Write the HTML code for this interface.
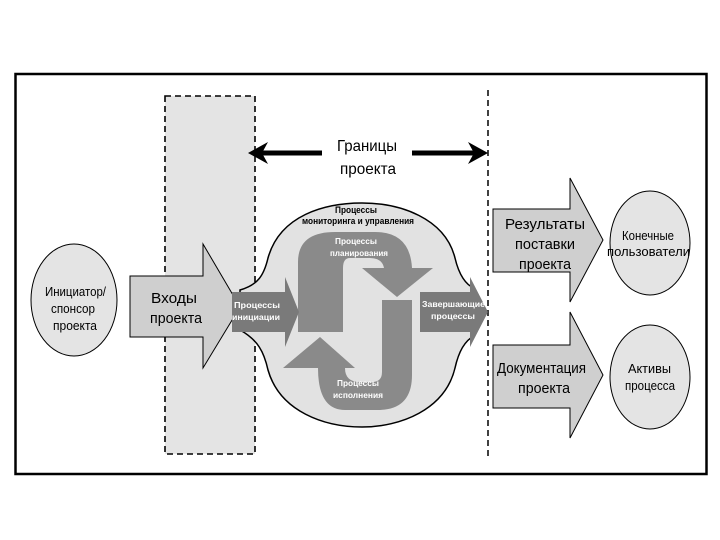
<!DOCTYPE html>
<html><head><meta charset="utf-8"><style>
html,body{margin:0;padding:0;background:#fff;width:720px;height:540px;overflow:hidden}
svg text{font-family:"Liberation Sans",sans-serif}
</style></head><body>
<svg width="720" height="540" viewBox="0 0 720 540">
<rect x="15.5" y="74" width="691" height="400" fill="#fff" stroke="#000" stroke-width="2.5"/>
<rect x="165" y="96" width="90" height="358" fill="#e4e4e4" stroke="#000" stroke-width="1.6" stroke-dasharray="6,4"/>
<line x1="488" y1="90" x2="488" y2="456" stroke="#000" stroke-width="1.5" stroke-dasharray="6,4"/>
<!-- boundary arrows -->
<line x1="262" y1="153" x2="322" y2="153" stroke="#000" stroke-width="5"/>
<polygon points="248,153 268,142 262,153 268,164" fill="#000"/>
<line x1="412" y1="153" x2="474" y2="153" stroke="#000" stroke-width="5"/>
<polygon points="488,153 468,142 474,153 468,164" fill="#000"/>
<text x="337" y="151" font-size="16" textLength="60" lengthAdjust="spacingAndGlyphs">Границы</text>
<text x="340" y="174" font-size="16" textLength="56" lengthAdjust="spacingAndGlyphs">проекта</text>
<!-- left circle -->
<ellipse cx="74" cy="300" rx="43" ry="56" fill="#e4e4e4" stroke="#000" stroke-width="1"/>
<text x="45" y="296" font-size="13" textLength="61" lengthAdjust="spacingAndGlyphs">Инициатор/</text>
<text x="51" y="313" font-size="13" textLength="44" lengthAdjust="spacingAndGlyphs">спонсор</text>
<text x="53" y="330" font-size="13" textLength="44" lengthAdjust="spacingAndGlyphs">проекта</text>
<!-- inputs arrow -->
<polygon points="130,276 203,276 203,244 240,307 203,368 203,337 130,337" fill="#cfcfcf" stroke="#000" stroke-width="1"/>
<text x="151" y="303" font-size="15" textLength="46" lengthAdjust="spacingAndGlyphs">Входы</text>
<text x="150" y="323" font-size="15" textLength="52" lengthAdjust="spacingAndGlyphs">проекта</text>
<!-- blob -->
<path d="M240,290 C258,285 264,275 268,258 C280,215 325,203 362,203 C400,203 445,218 455,258 C459,275 466,285 474,288 L474,336 C466,340 459,350 455,368 C445,410 400,427 362,427 C325,427 280,412 268,370 C264,352 258,340 240,330 Z" fill="#e2e2e2" stroke="#000" stroke-width="1.5"/>
<!-- hooks -->
<path d="M298,332 L298,262 Q298,232 335,232 L375,232 Q410,232 412,268 L433,268 L397,297 L362,268 L384,268 Q382,258 370,258 L350,258 Q343,258 343,268 L343,332 Z" fill="#8a8a8a"/>
<path d="M412,300 L412,375 Q412,410 378,410 L345,410 Q318,410 318,368 L283,368 L320,337 L355,368 L345,368 Q345,382 360,382 L372,382 Q382,382 382,372 L382,300 Z" fill="#8a8a8a"/>
<!-- initiation -->
<polygon points="232,292 285,292 285,277 299,312 285,347 285,332 232,332" fill="#7a7a7a"/>
<text x="234" y="308" font-size="8.5" font-weight="bold" fill="#fff" textLength="46" lengthAdjust="spacingAndGlyphs">Процессы</text>
<text x="232" y="320" font-size="8.5" font-weight="bold" fill="#fff" textLength="48" lengthAdjust="spacingAndGlyphs">инициации</text>
<!-- closing -->
<polygon points="420,292 470,292 470,277 488,312 470,347 470,332 420,332" fill="#7a7a7a"/>
<text x="422" y="307" font-size="8.5" font-weight="bold" fill="#fff" textLength="63" lengthAdjust="spacingAndGlyphs">Завершающие</text>
<text x="431" y="319" font-size="8.5" font-weight="bold" fill="#fff" textLength="44" lengthAdjust="spacingAndGlyphs">процессы</text>
<text x="335" y="213" font-size="9" font-weight="bold" textLength="42" lengthAdjust="spacingAndGlyphs">Процессы</text>
<text x="302" y="224" font-size="9" font-weight="bold" textLength="112" lengthAdjust="spacingAndGlyphs">мониторинга и управления</text>
<text x="335" y="244" font-size="8.5" font-weight="bold" fill="#fff" textLength="42" lengthAdjust="spacingAndGlyphs">Процессы</text>
<text x="330" y="256" font-size="8.5" font-weight="bold" fill="#fff" textLength="58" lengthAdjust="spacingAndGlyphs">планирования</text>
<text x="337" y="386" font-size="8.5" font-weight="bold" fill="#fff" textLength="42" lengthAdjust="spacingAndGlyphs">Процессы</text>
<text x="333" y="398" font-size="8.5" font-weight="bold" fill="#fff" textLength="50" lengthAdjust="spacingAndGlyphs">исполнения</text>
<!-- right arrows -->
<polygon points="493,209 570,209 570,178 603,240 570,302 570,272 493,272" fill="#cfcfcf" stroke="#000" stroke-width="1"/>
<text x="505" y="229" font-size="14.5" textLength="80" lengthAdjust="spacingAndGlyphs">Результаты</text>
<text x="515" y="249" font-size="14.5" textLength="60" lengthAdjust="spacingAndGlyphs">поставки</text>
<text x="519" y="269" font-size="14.5" textLength="52" lengthAdjust="spacingAndGlyphs">проекта</text>
<polygon points="493,345 570,345 570,312 603,375 570,438 570,408 493,408" fill="#cfcfcf" stroke="#000" stroke-width="1"/>
<text x="497" y="373" font-size="14.5" textLength="89" lengthAdjust="spacingAndGlyphs">Документация</text>
<text x="518" y="393" font-size="14.5" textLength="52" lengthAdjust="spacingAndGlyphs">проекта</text>
<ellipse cx="650" cy="243" rx="40" ry="52" fill="#e4e4e4" stroke="#000" stroke-width="1"/>
<text x="622" y="240" font-size="12.5" textLength="52" lengthAdjust="spacingAndGlyphs">Конечные</text>
<text x="607" y="256" font-size="12.5" textLength="83" lengthAdjust="spacingAndGlyphs">пользователи</text>
<ellipse cx="650" cy="377" rx="40" ry="52" fill="#e4e4e4" stroke="#000" stroke-width="1"/>
<text x="628" y="373" font-size="12.5" textLength="43" lengthAdjust="spacingAndGlyphs">Активы</text>
<text x="625" y="390" font-size="12.5" textLength="50" lengthAdjust="spacingAndGlyphs">процесса</text>
</svg>
</body></html>
